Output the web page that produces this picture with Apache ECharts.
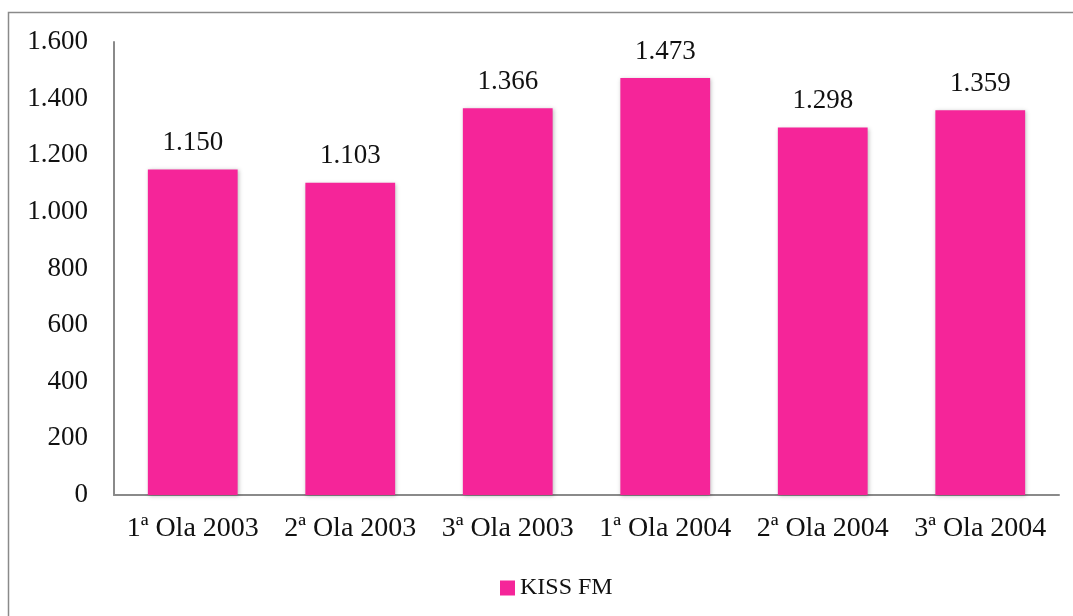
<!DOCTYPE html>
<html><head><meta charset="utf-8">
<script src="https://cdn.jsdelivr.net/npm/echarts@6/dist/echarts.min.js"></script>
<style>html,body{margin:0;padding:0;background:#fff}#c{width:1073px;height:616px}</style>
</head><body><div id="c"></div>
<script>
const categories = ["1ª Ola 2003","2ª Ola 2003","3ª Ola 2003","1ª Ola 2004","2ª Ola 2004","3ª Ola 2004"];
const seriesName = "KISS FM";
const values = [1150, 1103, 1366, 1473, 1298, 1359];
const yMin = 0, yMax = 1600, yStep = 200;

function fmt(v){ return String(v).replace(/\B(?=(\d{3})+(?!\d))/g, "."); }

const FONT = "Liberation Serif";
const chart = echarts.init(document.getElementById('c'), null, {renderer:'canvas'});
chart.setOption({
  backgroundColor: '#fff',
  animation: false,
  textStyle: {fontFamily: FONT},
  graphic: [{type:'rect', shape:{x:8.5, y:12.5, width:1080, height:620}, style:{fill:'none', stroke:'#8a8a8a', lineWidth:1.5}, silent:true}],
  grid: {left:114, right:14, top:42, bottom:121},
  legend: {
    data:[seriesName], left:495, top:571, itemWidth:15, itemHeight:15, itemGap:6,
    icon:'rect', textStyle:{fontFamily:FONT, fontSize:24, color:'#111'}
  },
  xAxis: {
    type:'category', data:categories,
    axisLine:{lineStyle:{color:'#8a8a8a', width:2}},
    axisTick:{show:false},
    axisLabel:{fontFamily:FONT, fontSize:28, color:'#111', margin:20, interval:0}
  },
  yAxis: {
    type:'value', min:yMin, max:yMax, interval:yStep,
    axisLine:{show:true, lineStyle:{color:'#8a8a8a', width:2}},
    axisTick:{show:false},
    splitLine:{show:false},
    axisLabel:{fontFamily:FONT, fontSize:27, color:'#111', margin:26, formatter:fmt}
  },
  series: [{
    name:seriesName, type:'bar', data:values, barWidth:'57%',
    itemStyle:{color:'#F52599', shadowColor:'rgba(0,0,0,0.25)', shadowBlur:4, shadowOffsetX:1, shadowOffsetY:1},
    label:{show:true, position:'top', distance:13, fontFamily:FONT, fontSize:27, color:'#111', formatter:p=>fmt(p.value)}
  }]
});
</script></body></html>
